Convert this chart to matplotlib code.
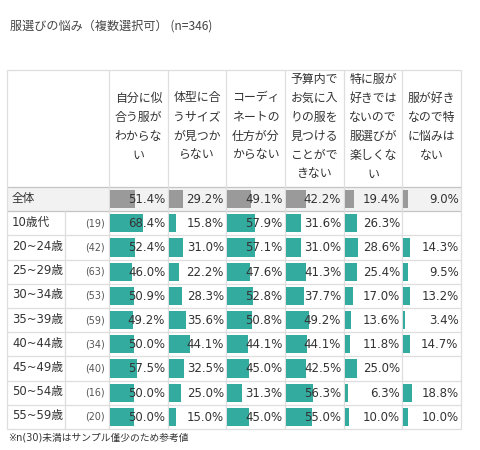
"""Table-style bar chart: clothing selection worries by age group."""

import matplotlib

matplotlib.use("Agg")
import matplotlib.pyplot as plt
import numpy as np

JP = ["Noto Sans CJK JP", "DejaVu Sans"]
MIXED = ["DejaVu Sans", "Noto Sans CJK JP"]

TITLE = "服選びの悩み（複数選択可） (n=346)"
FOOTNOTE = "※n(30)未満はサンプル僅少のため参考値"

COLUMNS = [
    "自分に似\n合う服が\nわからな\nい",
    "体型に合\nうサイズ\nが見つか\nらない",
    "コーディ\nネートの\n仕方が分\nからない",
    "予算内で\nお気に入\nりの服を\n見つける\nことがで\nきない",
    "特に服が\n好きでは\nないので\n服選びが\n楽しくな\nい",
    "服が好き\nなので特\nに悩みは\nない",
]

ROWS = ["全体", "10歳代", "20~24歳", "25~29歳", "30~34歳", "35~39歳",
        "40~44歳", "45~49歳", "50~54歳", "55~59歳"]
COUNTS = [None, 19, 42, 63, 53, 59, 34, 40, 16, 20]

# percentages per row, one list per column (None = no answer shown)
COL_VALUES = [
    [51.4, 68.4, 52.4, 46.0, 50.9, 49.2, 50.0, 57.5, 50.0, 50.0],
    [29.2, 15.8, 31.0, 22.2, 28.3, 35.6, 44.1, 32.5, 25.0, 15.0],
    [49.1, 57.9, 57.1, 47.6, 52.8, 50.8, 44.1, 45.0, 31.3, 45.0],
    [42.2, 31.6, 31.0, 41.3, 37.7, 49.2, 44.1, 42.5, 56.3, 55.0],
    [19.4, 26.3, 28.6, 25.4, 17.0, 13.6, 11.8, 25.0, 6.3, 10.0],
    [9.0, None, 14.3, 9.5, 13.2, 3.4, 14.7, None, 18.8, 10.0],
]

TEAL = "#33ab9f"
GREY_BAR = "#9a9a9a"
LINE = "#dedede"
TEXT = "#333333"

W, H = 480, 450
LEFT, RIGHT = 7, 461
LABEL_W = 102
SPLIT_X = 65
TOP, HEAD_BOT, BOTTOM = 70, 187, 429

fig = plt.figure(figsize=(W / 100, H / 100), dpi=100)
ax = fig.add_axes([0, 0, 1, 1])
ax.set_xlim(0, W)
ax.set_ylim(H, 0)
ax.axis("off")

n_rows = len(ROWS)
n_cols = len(COLUMNS)
row_h = (BOTTOM - HEAD_BOT) / n_rows
col_w = (RIGHT - LEFT - LABEL_W) / n_cols
col_x = [LEFT + LABEL_W + i * col_w for i in range(n_cols + 1)]

ax.text(10, 26, TITLE, family=JP, fontsize=8.7, color="#444444", va="center")

# background of the total row
ax.add_patch(plt.Rectangle((LEFT, HEAD_BOT), RIGHT - LEFT, row_h,
                           facecolor="#f2f2f2", edgecolor="none", zorder=0))

# grid lines
ax.hlines(TOP, LEFT, RIGHT, color=LINE, lw=0.9)
for i in range(n_rows + 1):
    y = HEAD_BOT + i * row_h
    c = "#c4c4c4" if i <= 1 else LINE
    ax.hlines(y, LEFT, RIGHT, color=c, lw=0.9)
for x in [LEFT] + col_x:
    ax.vlines(x, TOP, BOTTOM, color=LINE, lw=0.9)
ax.vlines(SPLIT_X, HEAD_BOT + row_h, BOTTOM, color=LINE, lw=0.9)

# header
for i, label in enumerate(COLUMNS):
    ax.text((col_x[i] + col_x[i + 1]) / 2, (TOP + HEAD_BOT) / 2 - 2, label,
            family=JP, fontsize=8.6, color=TEXT, ha="center", va="center",
            linespacing=1.6, multialignment="center")

# row labels
for r, (name, n) in enumerate(zip(ROWS, COUNTS)):
    yc = HEAD_BOT + (r + 0.5) * row_h
    ax.text(12, yc - 1, name, family=MIXED, fontsize=8.4, color=TEXT, va="center")
    if n is not None:
        ax.text(LEFT + LABEL_W - 4, yc, f"({n})", family=MIXED, fontsize=6.9,
                color="#555555", va="center", ha="right")

# bars: one axes per column
full_px = 48.5
xmax = 100 * col_w / full_px
pad = 2.5 * xmax / col_w
ypos = np.arange(n_rows)
for i, vals in enumerate(COL_VALUES):
    cax = fig.add_axes([(col_x[i] + 1) / W, 1 - BOTTOM / H,
                        (col_w - 1) / W, (BOTTOM - HEAD_BOT) / H])
    cax.set_xlim(0, xmax)
    cax.set_ylim(n_rows - 0.5, -0.5)
    cax.axis("off")
    v = np.array([np.nan if x is None else x for x in vals], dtype=float)
    colors = [GREY_BAR] + [TEAL] * (n_rows - 1)
    cax.barh(ypos, np.nan_to_num(v), height=0.76, color=colors, edgecolor="none")
    for r, x in enumerate(v):
        if np.isnan(x):
            continue
        cax.text(xmax - pad, r + 0.02, f"{x:.1f}%", family=MIXED, fontsize=8.5,
                 color=TEXT, ha="right", va="center")

ax.text(8, 438, FOOTNOTE, family=MIXED, fontsize=7, color=TEXT, va="center")

fig.savefig("out.png", dpi=100)
